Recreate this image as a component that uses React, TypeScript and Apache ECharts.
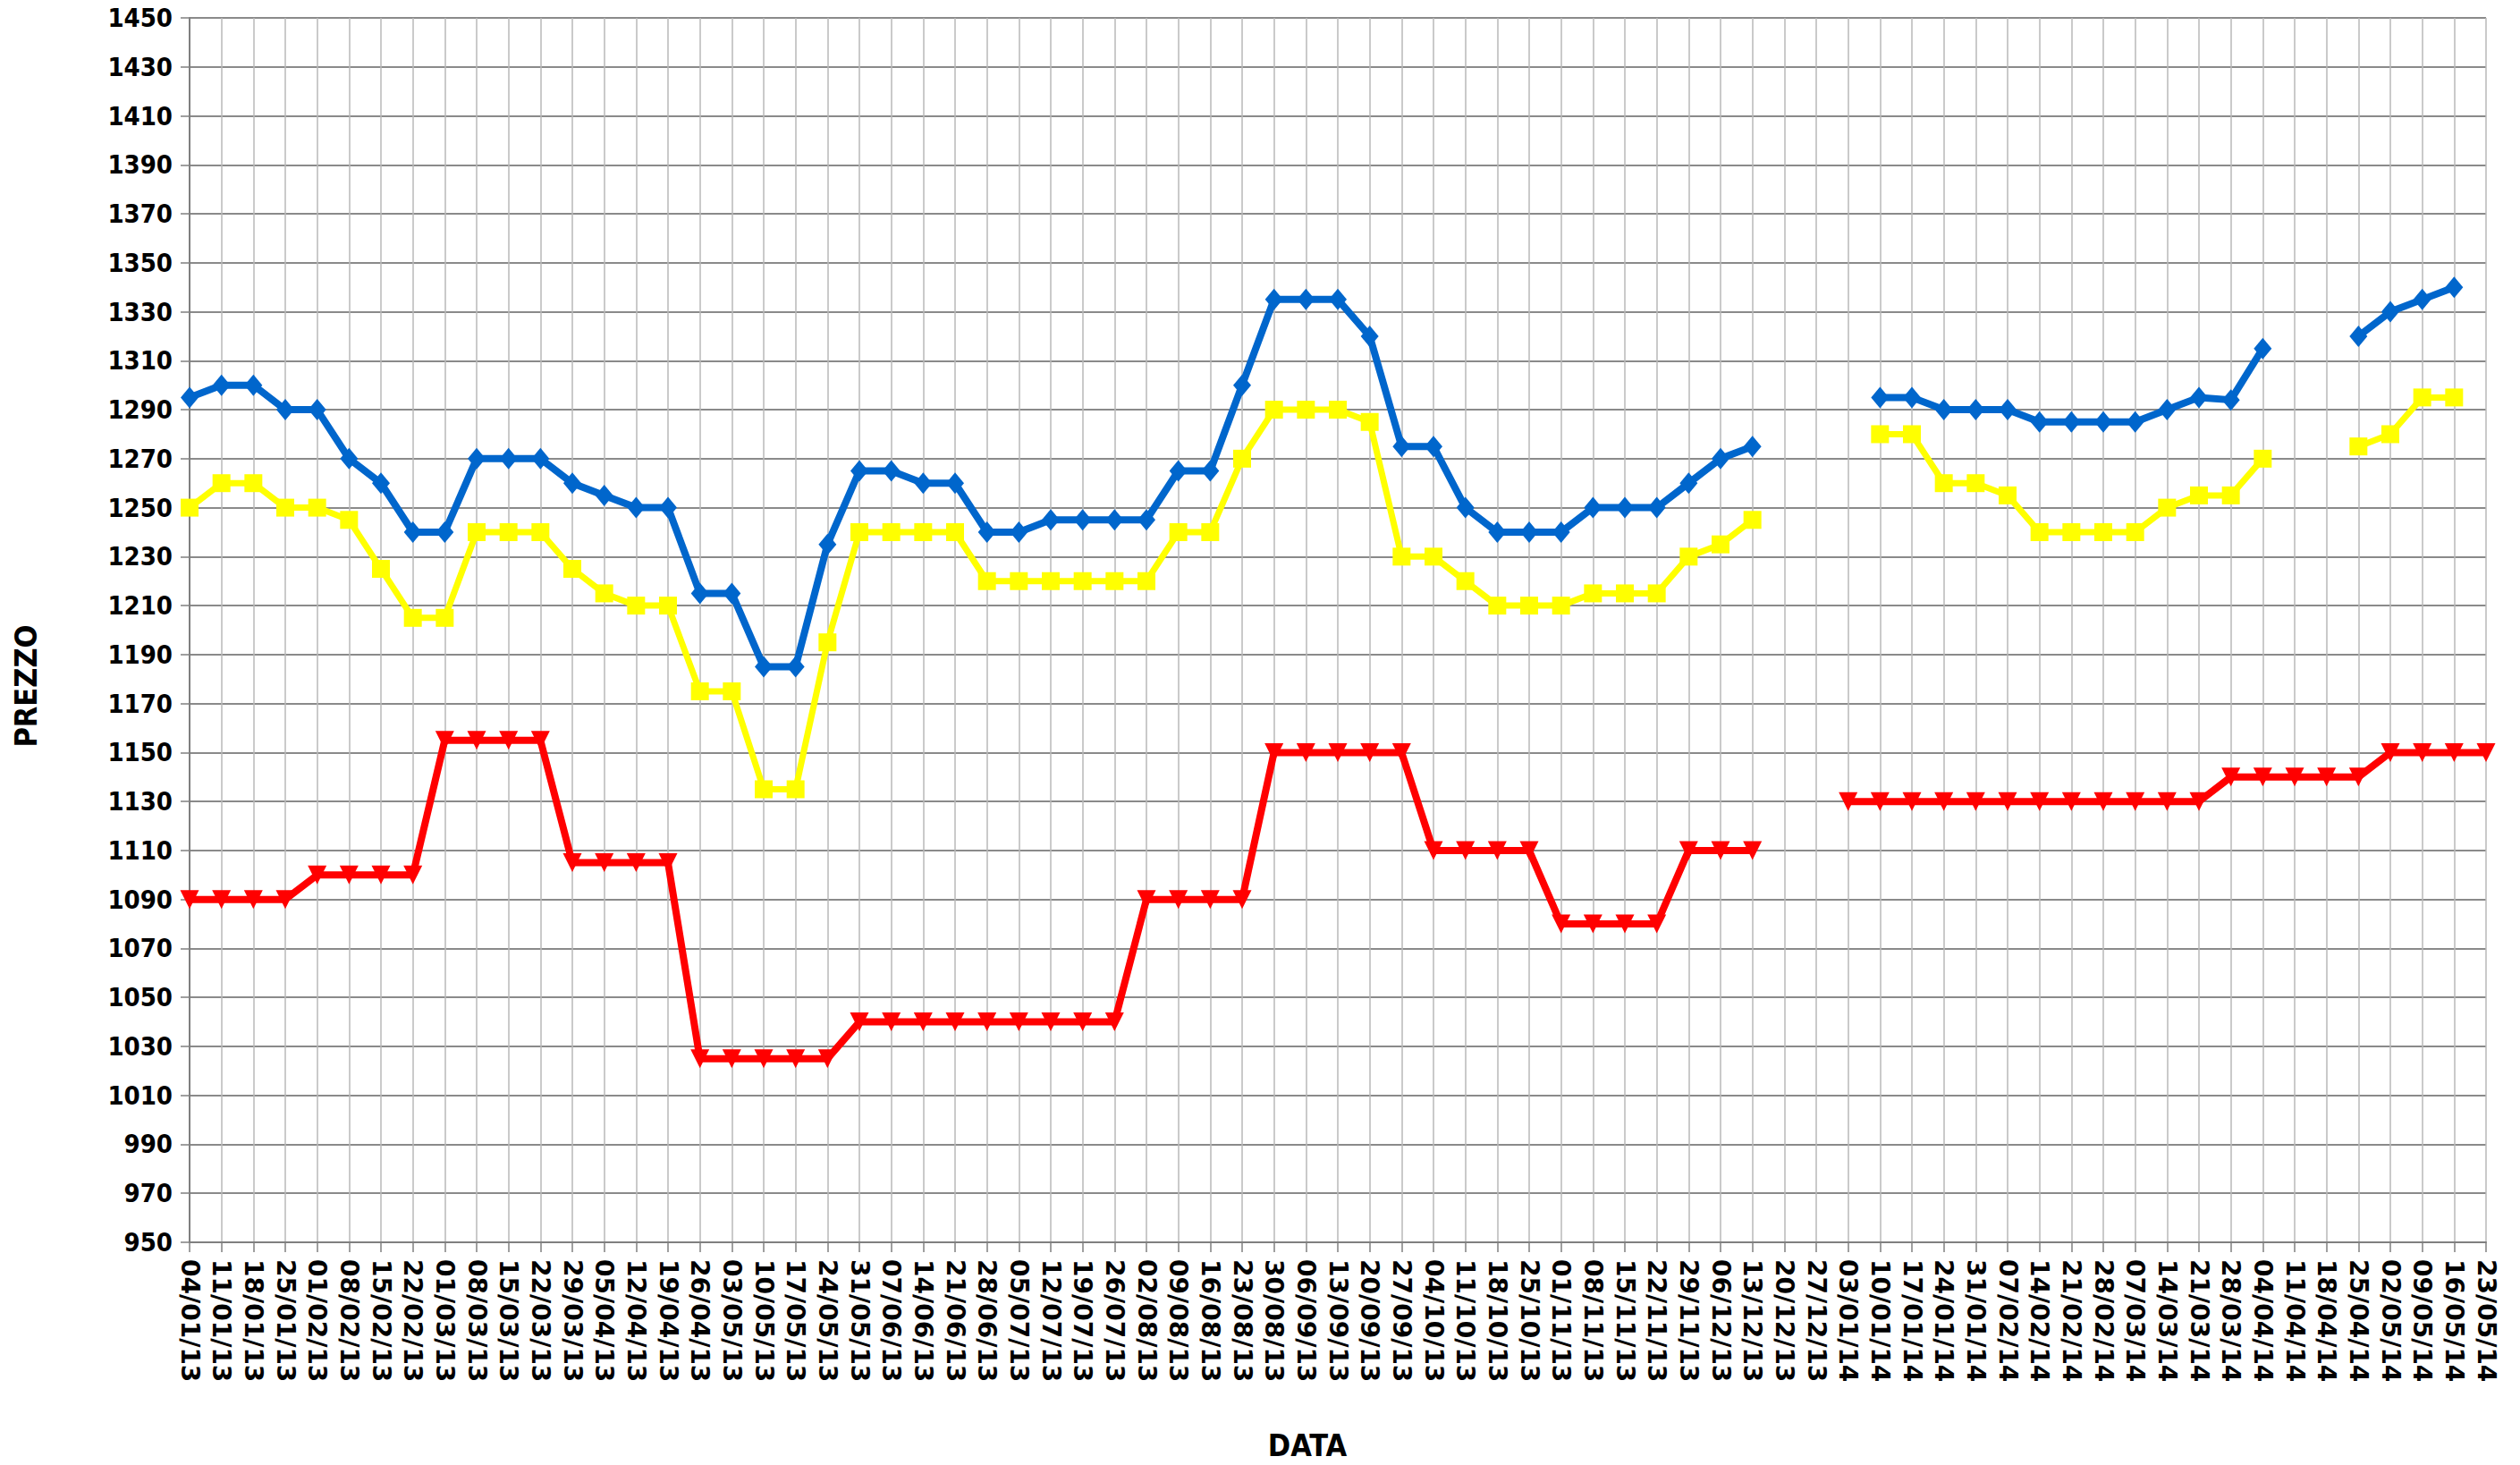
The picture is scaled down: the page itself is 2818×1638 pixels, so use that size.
import React, { useEffect, useRef } from "react";
import * as echarts from "echarts";

const categories = [
  "04/01/13", "11/01/13", "18/01/13", "25/01/13", "01/02/13", "08/02/13", "15/02/13", "22/02/13",
  "01/03/13", "08/03/13", "15/03/13", "22/03/13", "29/03/13", "05/04/13", "12/04/13", "19/04/13",
  "26/04/13", "03/05/13", "10/05/13", "17/05/13", "24/05/13", "31/05/13", "07/06/13", "14/06/13",
  "21/06/13", "28/06/13", "05/07/13", "12/07/13", "19/07/13", "26/07/13", "02/08/13", "09/08/13",
  "16/08/13", "23/08/13", "30/08/13", "06/09/13", "13/09/13", "20/09/13", "27/09/13", "04/10/13",
  "11/10/13", "18/10/13", "25/10/13", "01/11/13", "08/11/13", "15/11/13", "22/11/13", "29/11/13",
  "06/12/13", "13/12/13", "20/12/13", "27/12/13", "03/01/14", "10/01/14", "17/01/14", "24/01/14",
  "31/01/14", "07/02/14", "14/02/14", "21/02/14", "28/02/14", "07/03/14", "14/03/14", "21/03/14",
  "28/03/14", "04/04/14", "11/04/14", "18/04/14", "25/04/14", "02/05/14", "09/05/14", "16/05/14",
  "23/05/14",
];

const prezzoMassimo = [
  1295, 1300, 1300, 1290, 1290, 1270, 1260, 1240, 1240, 1270,
  1270, 1270, 1260, 1255, 1250, 1250, 1215, 1215, 1185, 1185,
  1235, 1265, 1265, 1260, 1260, 1240, 1240, 1245, 1245, 1245,
  1245, 1265, 1265, 1300, 1335, 1335, 1335, 1320, 1275, 1275,
  1250, 1240, 1240, 1240, 1250, 1250, 1250, 1260, 1270, 1275,
  null, null, null, 1295, 1295, 1290, 1290, 1290, 1285, 1285,
  1285, 1285, 1290, 1295, 1294, 1315, null, null, 1320, 1330,
  1335, 1340, null,
];

const prezzoMedio = [
  1250, 1260, 1260, 1250, 1250, 1245, 1225, 1205, 1205, 1240,
  1240, 1240, 1225, 1215, 1210, 1210, 1175, 1175, 1135, 1135,
  1195, 1240, 1240, 1240, 1240, 1220, 1220, 1220, 1220, 1220,
  1220, 1240, 1240, 1270, 1290, 1290, 1290, 1285, 1230, 1230,
  1220, 1210, 1210, 1210, 1215, 1215, 1215, 1230, 1235, 1245,
  null, null, null, 1280, 1280, 1260, 1260, 1255, 1240, 1240,
  1240, 1240, 1250, 1255, 1255, 1270, null, null, 1275, 1280,
  1295, 1295, null,
];

const prezzoMinimo = [
  1090, 1090, 1090, 1090, 1100, 1100, 1100, 1100, 1155, 1155,
  1155, 1155, 1105, 1105, 1105, 1105, 1025, 1025, 1025, 1025,
  1025, 1040, 1040, 1040, 1040, 1040, 1040, 1040, 1040, 1040,
  1090, 1090, 1090, 1090, 1150, 1150, 1150, 1150, 1150, 1110,
  1110, 1110, 1110, 1080, 1080, 1080, 1080, 1110, 1110, 1110,
  null, null, 1130, 1130, 1130, 1130, 1130, 1130, 1130, 1130,
  1130, 1130, 1130, 1130, 1140, 1140, 1140, 1140, 1140, 1150,
  1150, 1150, 1150,
];

const yMin = 950;
const yMax = 1450;
const yStep = 20;

const condensed = '"DejaVu Sans Condensed", "DejaVu Sans", sans-serif';

export default function App() {
  const ref = useRef<HTMLDivElement>(null);

  useEffect(() => {
    if (!ref.current) return;
    const chart = echarts.init(ref.current, undefined, { renderer: "svg" });
    chart.setOption({
      animation: false,
      backgroundColor: "#ffffff",
      grid: { left: 212, right: 38, top: 20, bottom: 249, containLabel: false },
      xAxis: {
        type: "category",
        data: categories,
        boundaryGap: false,
        axisLine: { show: true, lineStyle: { color: "#7f7f7f", width: 2 } },
        axisTick: { show: true, interval: 0, length: 11, lineStyle: { color: "#7f7f7f", width: 1.5 } },
        axisLabel: {
          interval: 0,
          rotate: -90,
          margin: 19,
          color: "#000000",
          fontFamily: '"DejaVu Sans", sans-serif',
          fontWeight: "bold",
          fontSize: 28,
        },
        splitLine: { show: true, interval: 0, lineStyle: { color: "#b8b8b8", width: 1.5 } },
      },
      yAxis: {
        type: "value",
        min: yMin,
        max: yMax,
        interval: yStep,
        axisLine: { show: true, lineStyle: { color: "#7f7f7f", width: 2 } },
        axisTick: { show: true, length: 10, lineStyle: { color: "#7f7f7f", width: 1.5 } },
        axisLabel: {
          margin: 19,
          color: "#000000",
          fontFamily: condensed,
          fontWeight: "bold",
          fontSize: 29,
          formatter: (v: number) => String(v),
        },
        splitLine: { show: true, lineStyle: { color: "#8a8a8a", width: 2 } },
      },
      series: [
        {
          name: "Prezzo massimo",
          type: "line",
          data: prezzoMassimo,
          connectNulls: false,
          symbol: "diamond",
          symbolSize: [20, 24],
          lineStyle: { color: "#0066cc", width: 8 },
          itemStyle: { color: "#0066cc" },
          z: 3,
        },
        {
          name: "Prezzo medio",
          type: "line",
          data: prezzoMedio,
          connectNulls: false,
          symbol: "rect",
          symbolSize: [20, 20],
          lineStyle: { color: "#ffff00", width: 7 },
          itemStyle: { color: "#ffff00" },
          z: 2,
        },
        {
          name: "Prezzo minimo",
          type: "line",
          data: prezzoMinimo,
          connectNulls: false,
          symbol: "triangle",
          symbolRotate: 180,
          symbolSize: [21, 21],
          lineStyle: { color: "#ff0000", width: 8 },
          itemStyle: { color: "#ff0000" },
          z: 2,
        },
      ],
      graphic: [
        {
          type: "text",
          x: 29,
          y: 767,
          rotation: Math.PI / 2,
          style: {
            text: "PREZZO",
            fontFamily: condensed,
            fontWeight: "bold",
            fontSize: 34,
            fill: "#000000",
            align: "center",
            verticalAlign: "middle",
          },
        },
        {
          type: "text",
          x: 1462,
          y: 1616,
          style: {
            text: "DATA",
            fontFamily: condensed,
            fontWeight: "bold",
            fontSize: 34,
            fill: "#000000",
            align: "center",
            verticalAlign: "middle",
          },
        },
      ],
    });
    return () => chart.dispose();
  }, []);

  return (
    <div
      ref={ref}
      style={{ position: "absolute", left: 0, top: 0, width: 2818, height: 1638 }}
    />
  );
}
